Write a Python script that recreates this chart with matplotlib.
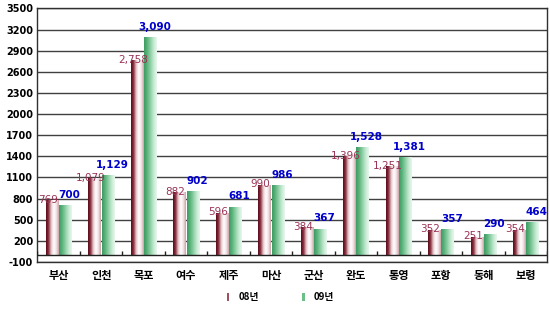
import numpy as np
import matplotlib
matplotlib.use('Agg')
import matplotlib.pyplot as plt
from matplotlib.colors import LinearSegmentedColormap
from matplotlib.patches import Patch

plt.rcParams['font.family'] = ['Noto Sans CJK KR', 'DejaVu Sans']

ports = ['부산', '인천', '목포', '여수', '제주', '마산', '군산', '완도', '통영', '포항', '동해', '보령']
y08 = [769, 1079, 2758, 882, 596, 990, 384, 1396, 1251, 352, 251, 354]
y09 = [700, 1129, 3090, 902, 681, 986, 367, 1528, 1381, 357, 290, 464]
series = ['08년', '09년']
yticks = list(range(-100, 3501, 300))

cmap08 = LinearSegmentedColormap.from_list(
    'c08', ['#5a0a18', '#8a3040', '#e8c8cc', '#ffffff', '#f4e4e6', '#c8a0a6'])
cmap09 = LinearSegmentedColormap.from_list(
    'c09', ['#3c9a62', '#5cb47c', '#8fd0a6', '#c4ead2', '#e8f8ee'])

fig = plt.figure(figsize=(5.5, 3.1), dpi=100)
ax = fig.add_axes([0.068, 0.155, 0.927, 0.818])

x = np.arange(len(ports))
w = 0.29
gap = 0.02
b08 = ax.bar(x - w / 2 - gap / 2, y08, w, color='none', edgecolor='none')
b09 = ax.bar(x + w / 2 + gap / 2, y09, w, color='none', edgecolor='none')

grad = np.linspace(0, 1, 64).reshape(1, -1)
for bars, cm in ((b08, cmap08), (b09, cmap09)):
    for p in bars:
        ax.imshow(grad, extent=[p.get_x(), p.get_x() + p.get_width(), 0, p.get_height()],
                  aspect='auto', cmap=cm, zorder=3, interpolation='bicubic')

for p, v in zip(b08, y08):
    ax.annotate(f'{v:,}', (p.get_x() + p.get_width() / 2, v), xytext=(-3, -3),
                textcoords='offset points', ha='center', va='bottom',
                fontsize=7.5, color='#993355', family='DejaVu Sans', zorder=5)
for p, v in zip(b09, y09):
    ax.annotate(f'{v:,}', (p.get_x() + p.get_width() / 2, v), xytext=(3, 4),
                textcoords='offset points', ha='center', va='bottom',
                fontsize=7.5, color='#0000cc', fontweight='bold', family='DejaVu Sans', zorder=5)

ax.set_xlim(-0.5, len(ports) - 0.5)
ax.set_ylim(-100, 3500)
ax.set_yticks(yticks)
ax.set_yticklabels([str(t) for t in yticks], fontsize=7, fontweight='bold', family='DejaVu Sans')
ax.tick_params(axis='y', length=0, pad=3)
ax.set_xticks(x)
ax.set_xticklabels(ports, fontsize=8, fontweight='bold')
ax.tick_params(axis='x', length=0, pad=5)
ax.grid(axis='y', color='#404040', lw=1.0, zorder=1)
ax.axhline(0, color='#202020', lw=1.0, zorder=4)
ax.vlines(np.arange(len(ports) + 1) - 0.5, 0, 50, color='#202020', lw=1.0, zorder=4)
for s in ax.spines.values():
    s.set_color('#303030')
    s.set_linewidth(1.0)

handles = [Patch(facecolor='#a05060', edgecolor='none'), Patch(facecolor='#6cbf88', edgecolor='none')]
fig.legend(handles, series, loc='center', bbox_to_anchor=(0.51, 0.042), ncol=2, frameon=False,
           handlelength=0.25, handleheight=0.9, columnspacing=4.5, handletextpad=0.9,
           prop={'weight': 'bold', 'size': 7})

fig.savefig('out.png', dpi=100)
